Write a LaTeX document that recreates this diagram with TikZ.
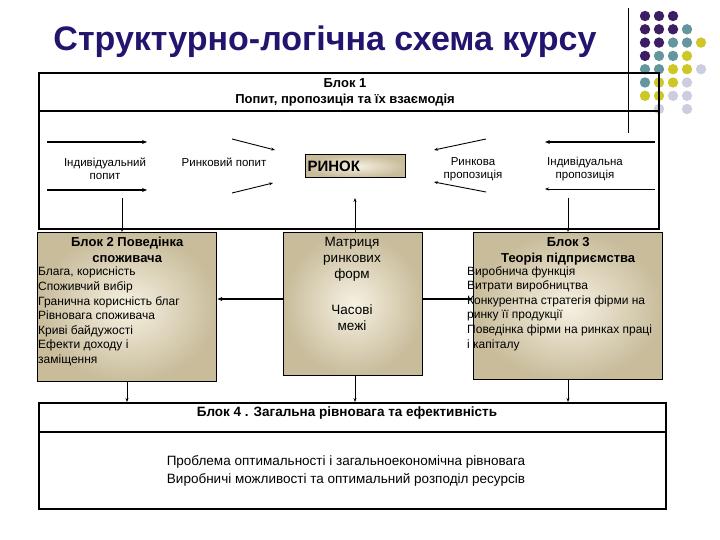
\documentclass[tikz,border=0pt]{standalone}
\usepackage{fontspec}
\setmainfont{Liberation Sans}
\usetikzlibrary{arrows.meta}
\definecolor{tan1}{RGB}{246,241,226}
\definecolor{tan2}{RGB}{200,188,155}
\definecolor{P}{RGB}{60,30,100}
\definecolor{T}{RGB}{100,150,160}
\definecolor{Y}{RGB}{205,200,40}
\definecolor{L}{RGB}{205,205,225}
\definecolor{ttl}{RGB}{35,20,110}
\begin{document}
\begin{tikzpicture}[x=1pt,y=-1pt,
  frame/.style={draw,line width=1.6pt},
  tanbox/.style={draw,line width=1.4pt,inner color=tan1,outer color=tan2},
  txt/.style={font=\fontsize{11.5}{13.5}\selectfont,align=center},
  btxt/.style={font=\fontsize{13}{16}\selectfont\bfseries,align=center},
  ltxt/.style={font=\fontsize{12}{14.6}\selectfont,align=left,anchor=north west,inner sep=0pt},
  arr/.style={-{Stealth[length=4pt,width=3pt]},line width=0.6pt},
  thk/.style={-{Stealth[length=5pt,width=4pt]},line width=1.2pt}]
\useasboundingbox (0,0) rectangle (720,540);
% title
\node[font=\fontsize{34}{38}\selectfont\bfseries,text=ttl] (title) at (325,42) {Структурно-логічна схема курсу};
% decoration
\draw[line width=0.8pt] (628,8) coordinate (d1) -- (628,133) coordinate (d2);
\foreach \r/\cols in {0/{P,P,P},1/{P,P,P,T},2/{P,P,T,T,Y},3/{P,T,T,Y},4/{T,T,Y,Y,L},5/{T,Y,Y,L},6/{Y,Y,L,L}}{
  \foreach \c [count=\i from 0] in \cols {
    \fill[fill=\c] (645+14*\i,16+13.3*\r) circle (5.2);
  }
}
\fill[L] (659,109) circle (5.2);
\fill[L] (687,109) circle (5.2);
% block 1
\node[frame,minimum width=620,minimum height=156,anchor=north west] (b1) at (38,72) {};
\draw[line width=1.6pt] (38,111) coordinate (s1) -- (658,111) coordinate (s2);
\node[btxt] (b1t) at (345,92) {Блок 1\\Попит, пропозиція та їх взаємодія};
\node[tanbox,minimum width=100,minimum height=23,anchor=north west,inner sep=0pt] (rynok) at (305,154) {};
\node[font=\fontsize{15}{16}\selectfont\bfseries,anchor=west] (rtxt) at (304,166) {РИНОК};
\node[txt] (ip) at (105,169) {Індивідуальний\\попит};
\node[txt] (rp) at (224,162) {Ринковий попит};
\node[txt] (rpr) at (473,169) {Ринкова\\пропозиція};
\node[txt] (ipr) at (585,169) {Індивідуальна\\пропозиція};
\coordinate (a1) at (47,142); \coordinate (a2) at (147,142);
\coordinate (a3) at (47,190); \coordinate (a4) at (147,190);
\draw[thk] (a1) -- (a2); \draw[thk] (a3) -- (a4);
\coordinate (c1) at (232,139); \coordinate (c2) at (275,150);
\coordinate (c3) at (232,193); \coordinate (c4) at (273,183);
\draw[arr,line width=0.9pt] (c1) -- (c2); \draw[arr,line width=0.9pt] (c3) -- (c4);
\coordinate (e1) at (486,139); \coordinate (e2) at (434,150);
\coordinate (e3) at (486,192); \coordinate (e4) at (434,182);
\draw[arr,line width=0.9pt] (e1) -- (e2); \draw[arr,line width=0.9pt] (e3) -- (e4);
\coordinate (f1) at (655,142); \coordinate (f2) at (545,142);
\coordinate (f3) at (655,189); \coordinate (f4) at (545,189);
\draw[thk] (f1) -- (f2); \draw[arr] (f3) -- (f4);
% block 2
\node[tanbox,minimum width=179,minimum height=149,anchor=north west] (b2) at (37,232) {};
\node[btxt,anchor=north,yshift=-2] (b2t) at (b2.north) {Блок 2 Поведінка\\споживача};
\node[ltxt] (b2l) at (38,267) {Блага, корисність\\Споживчий вибір\\Гранична корисність благ\\Рівновага споживача\\Криві байдужості\\Ефекти доходу і\\заміщення};
% middle
\node[tanbox,minimum width=139,minimum height=143,anchor=north west] (bm) at (283,232) {};
\node[txt,font=\fontsize{13.5}{16}\selectfont] (bmt) at (352,259) {Матриця\\ринкових\\форм};
\node[txt,font=\fontsize{13.5}{16}\selectfont] (bmt2) at (352,318) {Часові\\межі};
% block 3
\node[tanbox,minimum width=189,minimum height=147,anchor=north west] (b3) at (473,232) {};
\node[btxt,anchor=north,yshift=-2] (b3t) at (b3.north) {Блок 3\\Теорія підприємства};
\node[ltxt] (b3l) at (467,266) {Виробнича функція\\Витрати виробництва\\Конкурентна  стратегія фірми на\\ринку її продукції\\Поведінка фірми на ринках праці\\і капіталу};
% block 4
\node[frame,minimum width=627,minimum height=106,anchor=north west] (b4) at (38,402) {};
\draw[line width=1.6pt] (38,432) coordinate (s3) -- (665,432) coordinate (s4);
\node[btxt,font=\fontsize{13.5}{16}\selectfont\bfseries] (b4t) at (347,413) {Блок 4 . Загальна рівновага та ефективність};
\node[txt,font=\fontsize{13.5}{18}\selectfont] (b4b) at (346,471) {Проблема оптимальності і загальноекономічна рівновага\\Виробничі можливості та оптимальний розподіл ресурсів};
% connectors
\coordinate (g1) at (122,198); \draw[arr] (g1) -- (122,232);
\coordinate (g2) at (355,198); \draw[arr] (355,232) -- (g2);
\coordinate (g3) at (568,198); \draw[arr] (g3) -- (568,232);
\coordinate (h1) at (283,299); \coordinate (h2) at (422,299);
\draw[thk] (h1) -- (b2.east |- h1);
\draw[thk] (h2) -- (b3.west |- h2);
\draw[arr] (127,381) -- (127,402);
\draw[arr] (355,375) -- (355,402);
\draw[arr] (568,379) -- (568,402);
\end{tikzpicture}
\end{document}
